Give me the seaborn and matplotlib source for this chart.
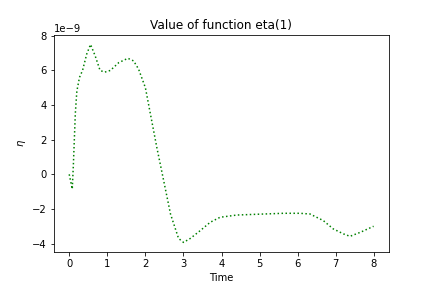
import numpy as np
import seaborn as sns
import matplotlib.pyplot as plt

# values, eta in units of 1e-9
time = [0.0, 0.08, 0.11, 0.16, 0.2, 0.27, 0.35, 0.46, 0.56, 0.68, 0.81, 0.93,
        1.08, 1.3, 1.54, 1.69, 1.82, 2.0, 2.13, 2.3, 2.48, 2.66, 2.87, 3.0,
        3.18, 3.44, 3.7, 3.96, 4.4, 5.0, 5.62, 6.06, 6.32, 6.67, 6.93, 7.2,
        7.37, 7.64, 7.99]
eta = [0.0, -0.85, 0.6, 3.5, 4.8, 5.6, 6.0, 6.95, 7.5, 6.85, 6.0, 5.9,
       6.0, 6.45, 6.7, 6.55, 6.08, 5.0, 3.5, 1.55, -0.37, -2.3, -3.7, -3.93,
       -3.7, -3.25, -2.77, -2.48, -2.35, -2.3, -2.25, -2.25, -2.29, -2.67, -3.15, -3.44,
       -3.58, -3.35, -3.0]

eta_vals = np.array(eta) * 1e-9

fig, ax = plt.subplots(figsize=(6, 4), dpi=72)
fig.subplots_adjust(bottom=0.124)
sns.lineplot(x=time, y=eta_vals, ax=ax, color="g", linestyle=":", linewidth=1.5)
ax.set_title("Value of function eta(1)")
ax.set_xlabel("Time")
ax.set_ylabel(r"$\eta$")

fig.savefig("out.png", dpi=72)
